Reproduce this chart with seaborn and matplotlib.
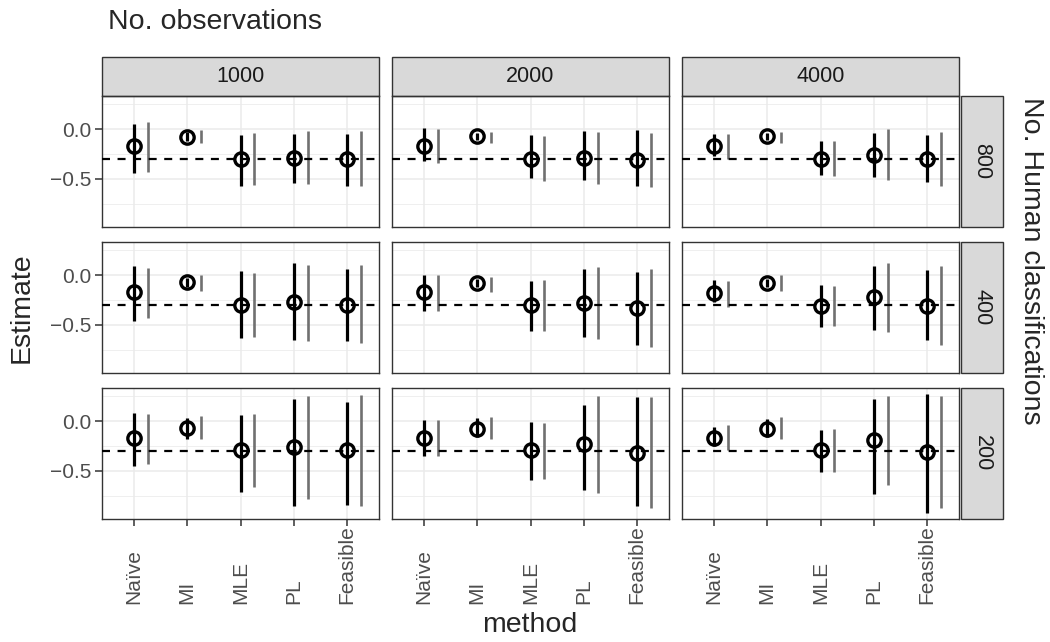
import numpy as np
import pandas as pd
import seaborn as sns
import matplotlib.pyplot as plt
from matplotlib.patches import Rectangle

# facets
methods = ["Naïve", "MI", "MLE", "PL", "Feasible"]
n_obs = [1000, 2000, 4000]
n_human = [800, 400, 200]
true_value = -0.3

# values are [n_human row][n_obs col][method]
estimate = [
    [[-0.17, -0.075, -0.30, -0.29, -0.30],
     [-0.165, -0.072, -0.296, -0.29, -0.306],
     [-0.165, -0.072, -0.296, -0.257, -0.296]],
    [[-0.173, -0.073, -0.297, -0.273, -0.297],
     [-0.167, -0.08, -0.30, -0.28, -0.333],
     [-0.18, -0.08, -0.307, -0.223, -0.307]],
    [[-0.173, -0.067, -0.293, -0.257, -0.293],
     [-0.173, -0.077, -0.293, -0.233, -0.317],
     [-0.173, -0.077, -0.293, -0.193, -0.31]],
]
black_low = [
    [[-0.44, -0.12, -0.57, -0.54, -0.57],
     [-0.32, -0.11, -0.49, -0.515, -0.575],
     [-0.27, -0.11, -0.46, -0.48, -0.53]],
    [[-0.463, -0.12, -0.633, -0.647, -0.663],
     [-0.357, -0.12, -0.557, -0.623, -0.697],
     [-0.273, -0.12, -0.517, -0.547, -0.647]],
    [[-0.45, -0.183, -0.71, -0.857, -0.843],
     [-0.35, -0.16, -0.59, -0.693, -0.85],
     [-0.25, -0.16, -0.51, -0.727, -0.923]],
]
black_high = [
    [[0.05, -0.03, -0.06, -0.05, -0.05],
     [0.01, -0.04, -0.055, -0.015, -0.01],
     [-0.05, -0.04, -0.12, -0.04, -0.06]],
    [[0.093, -0.03, 0.037, 0.117, 0.06],
     [0.0, -0.04, -0.063, 0.06, 0.033],
     [-0.047, -0.04, -0.10, 0.093, 0.05]],
    [[0.083, 0.033, 0.06, 0.227, 0.193],
     [0.007, 0.033, -0.007, 0.167, 0.24],
     [-0.057, 0.023, -0.09, 0.223, 0.273]],
]
gray_low = [
    [[-0.43, -0.14, -0.56, -0.55, -0.57],
     [-0.345, -0.14, -0.52, -0.55, -0.58],
     [-0.30, -0.14, -0.47, -0.51, -0.575]],
    [[-0.433, -0.163, -0.623, -0.657, -0.683],
     [-0.357, -0.167, -0.563, -0.64, -0.723],
     [-0.317, -0.163, -0.507, -0.567, -0.697]],
    [[-0.427, -0.183, -0.657, -0.777, -0.857],
     [-0.35, -0.183, -0.577, -0.717, -0.877],
     [-0.293, -0.183, -0.507, -0.64, -0.873]],
]
gray_high = [
    [[0.07, -0.01, -0.04, -0.02, -0.02],
     [0.0, -0.03, -0.07, -0.025, -0.04],
     [-0.05, -0.03, -0.115, 0.0, -0.03]],
    [[0.067, 0.0, 0.02, 0.10, 0.10],
     [0.0, -0.017, -0.05, 0.083, 0.06],
     [-0.063, 0.0, -0.113, 0.117, 0.093]],
    [[0.073, 0.05, 0.073, 0.257, 0.267],
     [0.007, 0.04, -0.017, 0.25, 0.243],
     [-0.043, 0.04, -0.083, 0.25, 0.25]],
]

rows = []
for i, h in enumerate(n_human):
    for j, o in enumerate(n_obs):
        for k, m in enumerate(methods):
            rows.append(dict(n_human=h, n_obs=o, method=m,
                             est=estimate[i][j][k],
                             blo=black_low[i][j][k], bhi=black_high[i][j][k],
                             glo=gray_low[i][j][k], ghi=gray_high[i][j][k]))
df = pd.DataFrame(rows)
df["method"] = pd.Categorical(df["method"], categories=methods)

sns.set_style("white")
plt.rcParams["font.family"] = ["Liberation Sans", "DejaVu Sans"]

GRID = "#EBEBEB"
DARK = "#333333"
lo_all = df[["blo", "glo"]].min().min()
hi_all = df[["bhi", "ghi"]].max().max()
pad = (hi_all - lo_all) * 0.05
ylim = (lo_all - pad, hi_all + pad)


def draw(data, **kw):
    ax = plt.gca()
    x = data["method"].cat.codes.values.astype(float)
    ax.vlines(x, data["blo"], data["bhi"], color="black", lw=2.3, zorder=3)
    ax.vlines(x + 0.26, data["glo"], data["ghi"], color="#707070", lw=1.9, zorder=3)
    ax.plot(x, data["est"], "o", mfc="none", mec="black", ms=9.6, mew=2.4, zorder=4)
    ax.axhline(true_value, color="black", lw=1.6, ls=(0, (3.6, 3.4)), zorder=5)


g = sns.FacetGrid(df, row="n_human", col="n_obs", row_order=n_human,
                  col_order=n_obs, sharey=True, sharex=True, height=2, aspect=1.7)
g.map_dataframe(draw)
fig = g.figure
fig.set_size_inches(10.5, 6.42)

W, H = 1050, 642
lefts = [102, 392, 682]
tops = [96, 242, 388]
pw, ph = 277, 131

for i in range(3):
    for j in range(3):
        ax = g.axes[i, j]
        ax.set_position([lefts[j] / W, 1 - (tops[i] + ph) / H, pw / W, ph / H])
        ax.set_title("")
        ax.set_xlabel("")
        ax.set_ylabel("")
        ax.set_xlim(-0.6, len(methods) - 0.4)
        ax.set_ylim(*ylim)
        ax.set_xticks(range(len(methods)))
        ax.set_yticks([0.0, -0.5])
        ax.set_yticks([-0.75, -0.25, 0.25], minor=True)
        ax.grid(True, which="major", color=GRID, lw=1.1, zorder=0)
        ax.grid(True, which="minor", axis="y", color=GRID, lw=0.55, zorder=0)
        ax.set_axisbelow(True)
        for s in ax.spines.values():
            s.set_visible(True)
            s.set_color(DARK)
            s.set_linewidth(1.0)
        ax.tick_params(axis="both", which="major", direction="out", length=5,
                       width=1.1, color=DARK, labelcolor="#4D4D4D", labelsize=15,
                       left=(j == 0), bottom=(i == 2),
                       labelleft=(j == 0), labelbottom=(i == 2))
        ax.tick_params(axis="both", which="minor", length=0)
        ax.tick_params(axis="y", pad=3)
        ax.set_yticklabels(["0.0", "\u22120.5"])
        if i == 2:
            ax.set_xticklabels(methods, rotation=90, va="bottom", ha="center")
            ax.tick_params(axis="x", pad=56)
        if i == 0:
            sh = 39 / ph
            ax.add_patch(Rectangle((0, 1), 1, sh, transform=ax.transAxes,
                                   clip_on=False, fc="#D9D9D9", ec=DARK, lw=1.0))
            ax.text(0.5, 1 + sh / 2, str(n_obs[j]), transform=ax.transAxes,
                    ha="center", va="center", fontsize=15.5, color="#1A1A1A")
        if j == 2:
            sw = 42 / pw
            ax.add_patch(Rectangle((1 + 2 / pw, 0), sw, 1, transform=ax.transAxes,
                                   clip_on=False, fc="#D9D9D9", ec=DARK, lw=1.0))
            ax.text(1 + 2 / pw + sw / 2, 0.5, str(n_human[i]), transform=ax.transAxes,
                    ha="center", va="center", rotation=-90, fontsize=15.5,
                    color="#1A1A1A")

fig.text(108 / W, 1 - 22 / H, "No. observations", ha="left", va="center", fontsize=20.5)
fig.text(22 / W, 1 - 308 / H, "Estimate", ha="center", va="center",
         rotation=90, fontsize=20.5)
fig.text(530 / W, 1 - 625 / H, "method", ha="center", va="center", fontsize=20.5)
fig.text(1031 / W, 1 - 97 / H, "No. Human classifications", ha="center",
         va="top", rotation=-90, fontsize=20.5)

fig.savefig("out.png", dpi=100)
